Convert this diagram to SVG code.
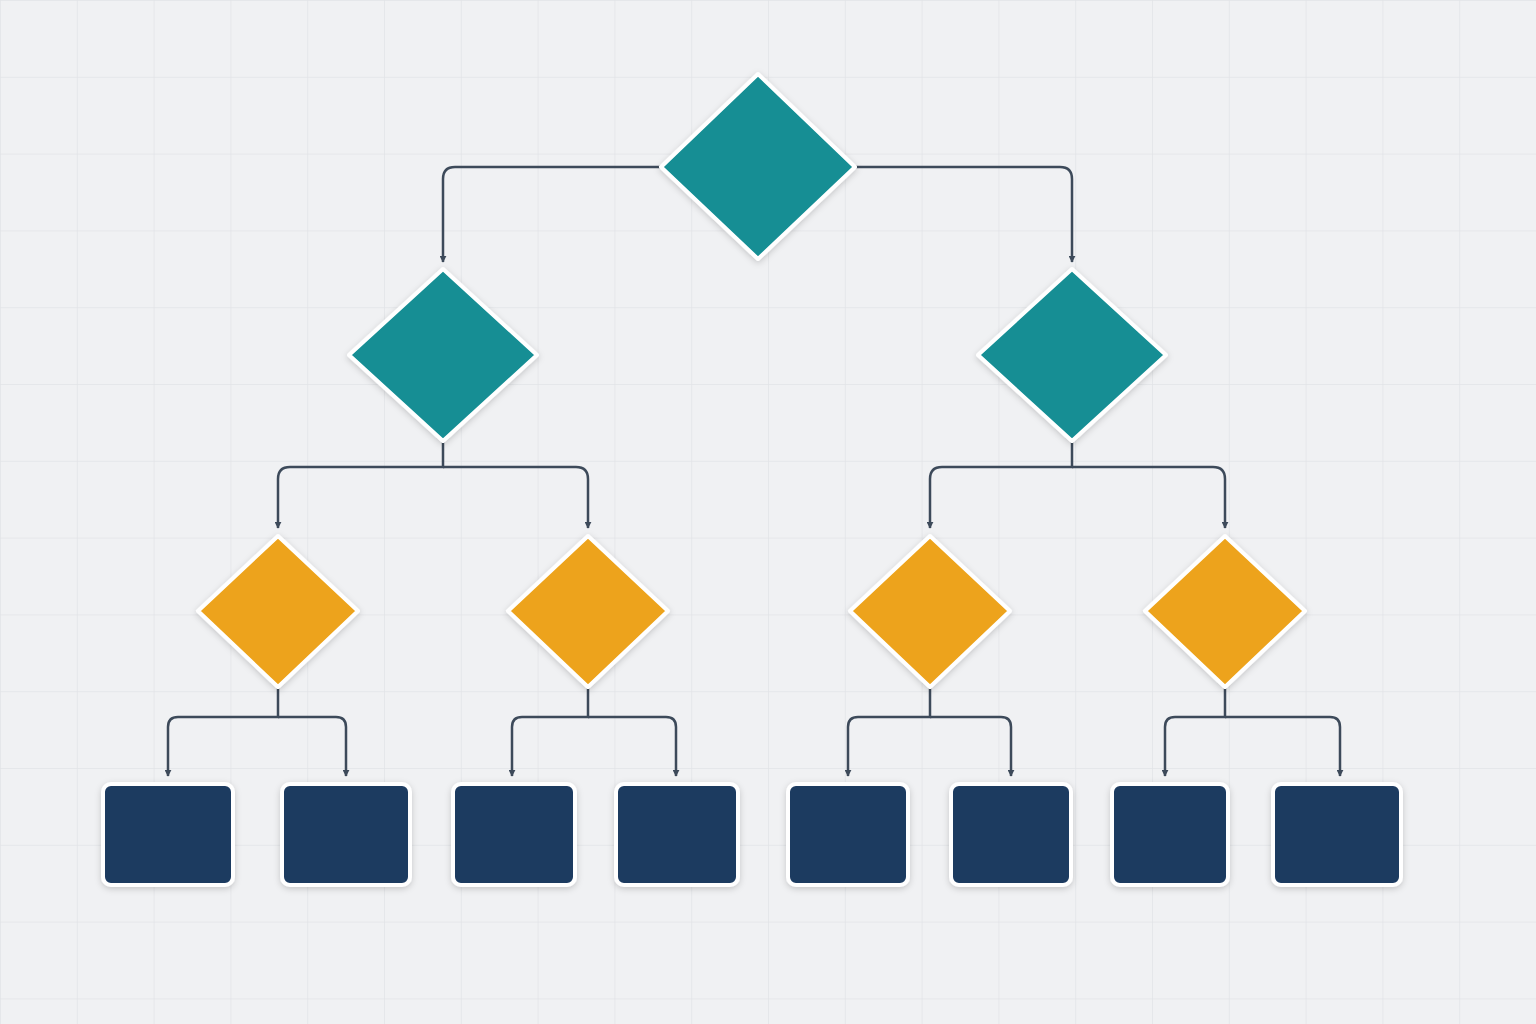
<svg xmlns="http://www.w3.org/2000/svg" width="1536" height="1024" viewBox="0 0 1536 1024">
<style>
.c{fill:none;stroke:#3d4a5a;stroke-width:2.5;marker-end:url(#ah)}
.t{fill:#128e94;stroke:#fff;stroke-width:4;stroke-linejoin:round;filter:url(#sh)}
.y{fill:#eda31a;stroke:#fff;stroke-width:4;stroke-linejoin:round;filter:url(#sh)}
.b{fill:#1b3a61;stroke:#fff;stroke-width:4;filter:url(#sh)}
</style>
<defs>
<pattern id="g" width="76.8" height="76.8" patternUnits="userSpaceOnUse">
<path d="M0 0H76.8M0 0V76.8" stroke="#e2e4e7" stroke-width="1.5" fill="none"/>
</pattern>
<marker id="ah" viewBox="0 0 10 10" refX="9" refY="5" markerWidth="7" markerHeight="7" orient="auto" markerUnits="userSpaceOnUse">
<path d="M0 0L10 5L0 10z" fill="#3d4a5a"/>
</marker>
<filter id="sh" x="-20%" y="-20%" width="140%" height="140%">
<feDropShadow dx="0" dy="2" stdDeviation="3" flood-color="#000" flood-opacity="0.18"/>
</filter>
</defs>
<rect width="1536" height="1024" fill="#f0f1f3"/>
<rect width="1536" height="1024" fill="url(#g)"/>
<g id="connectors">
<path class="c" d="M660 167H455Q443 167 443 179V262"/>
<path class="c" d="M856 167H1060Q1072 167 1072 179V262"/>
<path class="c" d="M443 442V467H290Q278 467 278 479V528"/>
<path class="c" d="M443 467H576Q588 467 588 479V528"/>
<path class="c" d="M1072 442V467H942Q930 467 930 479V528"/>
<path class="c" d="M1072 467H1213Q1225 467 1225 479V528"/>
<path class="c" d="M278 688V717H178Q168 717 168 727V776"/>
<path class="c" d="M278 717H336Q346 717 346 727V776"/>
<path class="c" d="M588 688V717H522Q512 717 512 727V776"/>
<path class="c" d="M588 717H666Q676 717 676 727V776"/>
<path class="c" d="M930 688V717H858Q848 717 848 727V776"/>
<path class="c" d="M930 717H1001Q1011 717 1011 727V776"/>
<path class="c" d="M1225 688V717H1175Q1165 717 1165 727V776"/>
<path class="c" d="M1225 717H1330Q1340 717 1340 727V776"/>
</g>
<g id="n1"><path class="t" d="M758 74L855 167L758 259L661 167Z"/></g>
<g id="n2"><path class="t" d="M443 269L537 355L443 441L349 355Z"/></g>
<g id="n3"><path class="t" d="M1072 269L1166 355L1072 441L978 355Z"/></g>
<g id="n4"><path class="y" d="M278 536L358 611L278 687L198 611Z"/></g>
<g id="n5"><path class="y" d="M588 536L668 611L588 687L508 611Z"/></g>
<g id="n6"><path class="y" d="M930 536L1010 611L930 687L850 611Z"/></g>
<g id="n7"><path class="y" d="M1225 536L1305 611L1225 687L1145 611Z"/></g>
<g id="b1"><rect class="b" x="103" y="784" width="130" height="101" rx="8"/></g>
<g id="b2"><rect class="b" x="282" y="784" width="128" height="101" rx="8"/></g>
<g id="b3"><rect class="b" x="453" y="784" width="122" height="101" rx="8"/></g>
<g id="b4"><rect class="b" x="616" y="784" width="122" height="101" rx="8"/></g>
<g id="b5"><rect class="b" x="788" y="784" width="120" height="101" rx="8"/></g>
<g id="b6"><rect class="b" x="951" y="784" width="120" height="101" rx="8"/></g>
<g id="b7"><rect class="b" x="1112" y="784" width="116" height="101" rx="8"/></g>
<g id="b8"><rect class="b" x="1273" y="784" width="128" height="101" rx="8"/></g>
</svg>
